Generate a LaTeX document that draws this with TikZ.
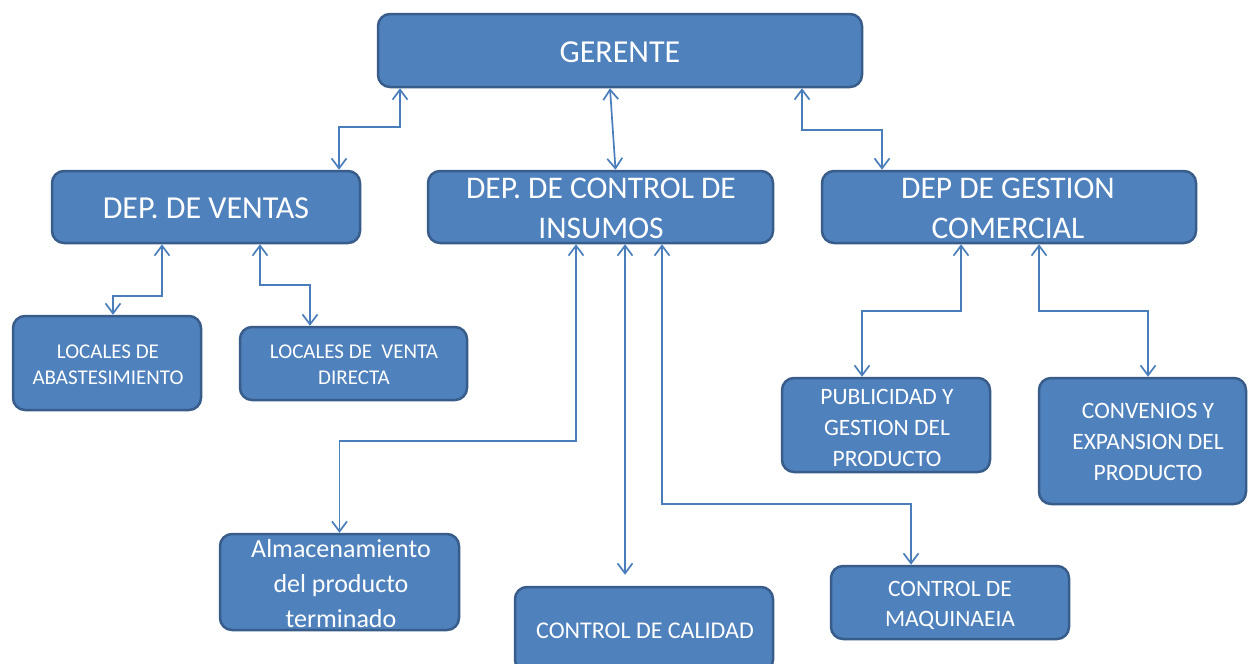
\documentclass[tikz,border=0pt]{standalone}
\usepackage{fontspec}
\setmainfont{Carlito}
\usetikzlibrary{arrows.meta}
\definecolor{bf}{HTML}{4F81BD}
\definecolor{bd}{HTML}{385D8A}
\definecolor{lc}{HTML}{4A7EBB}
\tikzset{
  box/.style={draw=bd, fill=bf, line width=2.5pt, rounded corners=12pt, inner sep=0pt},
  txt/.style={text=white, align=center, inner sep=0pt},
  conn/.style={draw=lc, line width=1.7pt, {Straight Barb[length=10pt,width=15pt]}-{Straight Barb[length=10pt,width=15pt]}}
}
\begin{document}
\begin{tikzpicture}[x=1pt,y=-1pt]
\useasboundingbox[fill=white] (0,0) rectangle (1248,664);
% boxes
\node[box, minimum width=484pt, minimum height=73pt] (ger) at (620,50.5) {};
\node[box, minimum width=308pt, minimum height=72pt] (ven) at (206,207) {};
\node[box, minimum width=345pt, minimum height=72pt] (ins) at (600.5,207) {};
\node[box, minimum width=374pt, minimum height=72pt] (ges) at (1009,207) {};
\node[box, minimum width=188pt, minimum height=94pt] (loa) at (107,363) {};
\node[box, minimum width=227pt, minimum height=73pt] (lov) at (353.5,363.5) {};
\node[box, minimum width=208pt, minimum height=94pt] (pub) at (886,425) {};
\node[box, minimum width=207pt, minimum height=126pt] (con) at (1142.5,441) {};
\node[box, minimum width=239pt, minimum height=96pt] (alm) at (339.5,582) {};
\node[box, minimum width=258pt, minimum height=85pt] (cal) at (644,629.5) {};
\node[box, minimum width=238pt, minimum height=73pt] (maq) at (950,602.5) {};
% texts
\node[txt, font=\fontsize{32}{38}\selectfont] (tger) at (620,52) {GERENTE};
\node[txt, font=\fontsize{32}{40}\selectfont] (tven) at (206,208) {DEP. DE VENTAS};
\node[txt, font=\fontsize{31.5}{40}\selectfont] (tins) at (601,208) {DEP. DE CONTROL DE\\INSUMOS};
\node[txt, font=\fontsize{31.5}{40}\selectfont] (tges) at (1008,208) {DEP DE GESTION\\COMERCIAL};
\node[txt, font=\fontsize{21}{26}\selectfont] (tloa) at (108,365) {LOCALES DE\\ABASTESIMIENTO};
\node[txt, font=\fontsize{21}{26}\selectfont] (tlov) at (354,365) {LOCALES DE\ \ VENTA\\DIRECTA};
\node[txt, font=\fontsize{23.5}{31}\selectfont] (tpub) at (887,428) {PUBLICIDAD Y\\GESTION DEL\\PRODUCTO};
\node[txt, font=\fontsize{23.5}{31}\selectfont] (tcon) at (1148,442) {CONVENIOS Y\\EXPANSION DEL\\PRODUCTO};
\node[txt, font=\fontsize{26}{35}\selectfont] (talm) at (341,584) {Almacenamiento\\del producto\\terminado};
\node[txt, font=\fontsize{24}{30}\selectfont] (tcal) at (645,631) {CONTROL DE CALIDAD};
\node[txt, font=\fontsize{23.5}{30}\selectfont] (tmaq) at (950,605) {CONTROL DE\\MAQUINAEIA};
% connectors
\draw[conn] ([xshift=-220pt]ger.south) -- ++(0,39) -| ([xshift=133pt]ven.north);
\draw[conn] ([xshift=-10pt]ger.south) -- ([xshift=15pt]ins.north);
\draw[conn] ([xshift=182pt]ger.south) -- ++(0,42) -| ([xshift=-127pt]ges.north);
\draw[conn] ([xshift=-44pt]ven.south) -- ++(0,52) -| ([xshift=6pt]loa.north);
\draw[conn] ([xshift=54pt]ven.south) -- ++(0,41) -| ([xshift=-43.5pt]lov.north);
\draw[conn] ([xshift=-24.5pt]ins.south) -- ++(0,197) -| (alm.north);
\draw[conn] ([xshift=24.5pt]ins.south) -- ([xshift=-19pt,yshift=11pt]cal.north);
\draw[conn] ([xshift=61.5pt]ins.south) -- ++(0,260) -| ([xshift=-39pt]maq.north);
\draw[conn] ([xshift=-48pt]ges.south) -- ++(0,67) -| ([xshift=-24pt]pub.north);
\draw[conn] ([xshift=30pt]ges.south) -- ++(0,67) -| ([xshift=5.5pt]con.north);
\end{tikzpicture}
\end{document}
